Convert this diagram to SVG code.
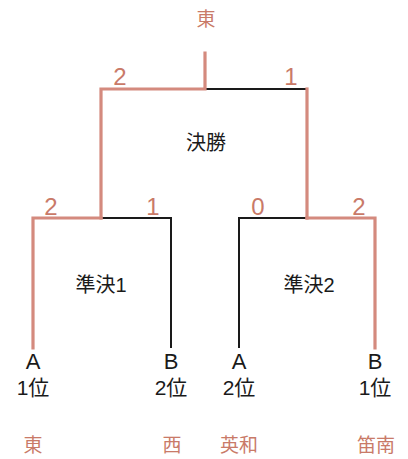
<svg xmlns="http://www.w3.org/2000/svg" width="408" height="459" viewBox="0 0 408 459">
<style>
.w{stroke:#d48a7e;stroke-width:3.2;fill:none;stroke-linecap:square}
.l{stroke:#1a1a1a;stroke-width:2;fill:none}
.t{font-family:"Liberation Sans","Noto Sans CJK JP",sans-serif;fill:#1a1a1a;text-anchor:middle}
.p{font-family:"Noto Sans CJK JP","Liberation Sans",sans-serif;fill:#c97a68;text-anchor:middle}
.s{font-family:"Liberation Sans",sans-serif;fill:#c97a68;text-anchor:middle;font-size:24px}
.m{font-size:20px}
.r{font-size:21px}
.a{font-size:22px}
.n{font-size:19px}
</style>
<rect width="408" height="459" fill="#ffffff"/>
<g id="connectors">
<polyline class="l" points="205,89 307,89"/>
<polyline class="l" points="101,218 171,218 171,348"/>
<polyline class="l" points="306,218 239,218 239,348"/>
<polyline class="w" points="205,53 205,89 101,89 101,218"/>
<polyline class="w" points="307,89 307,218"/>
<polyline class="w" points="101,218 33,218 33,348"/>
<polyline class="w" points="307,218 375,218 375,348"/>
</g>
<g id="champion"><text class="p n" x="206" y="26">東</text></g>
<g id="final"><text class="t m" x="206" y="150">決勝</text>
<text class="s" x="120" y="85">2</text><text class="s" x="291" y="85">1</text></g>
<g id="semi1"><text class="t m" x="101" y="292">準決1</text>
<text class="s" x="51" y="215">2</text><text class="s" x="153" y="215">1</text></g>
<g id="semi2"><text class="t m" x="309" y="292">準決2</text>
<text class="s" x="258" y="215">0</text><text class="s" x="359" y="215">2</text></g>
<g id="teamA1"><text class="t a" x="33" y="369">A</text><text class="t r" x="33" y="395">1位</text><text class="p n" x="33" y="452">東</text></g>
<g id="teamB2"><text class="t a" x="171" y="369">B</text><text class="t r" x="171" y="395">2位</text><text class="p n" x="172" y="452">西</text></g>
<g id="teamA2"><text class="t a" x="239" y="369">A</text><text class="t r" x="239" y="395">2位</text><text class="p n" x="239" y="452">英和</text></g>
<g id="teamB1"><text class="t a" x="375" y="369">B</text><text class="t r" x="375" y="395">1位</text><text class="p n" x="376" y="452">笛南</text></g>
</svg>
